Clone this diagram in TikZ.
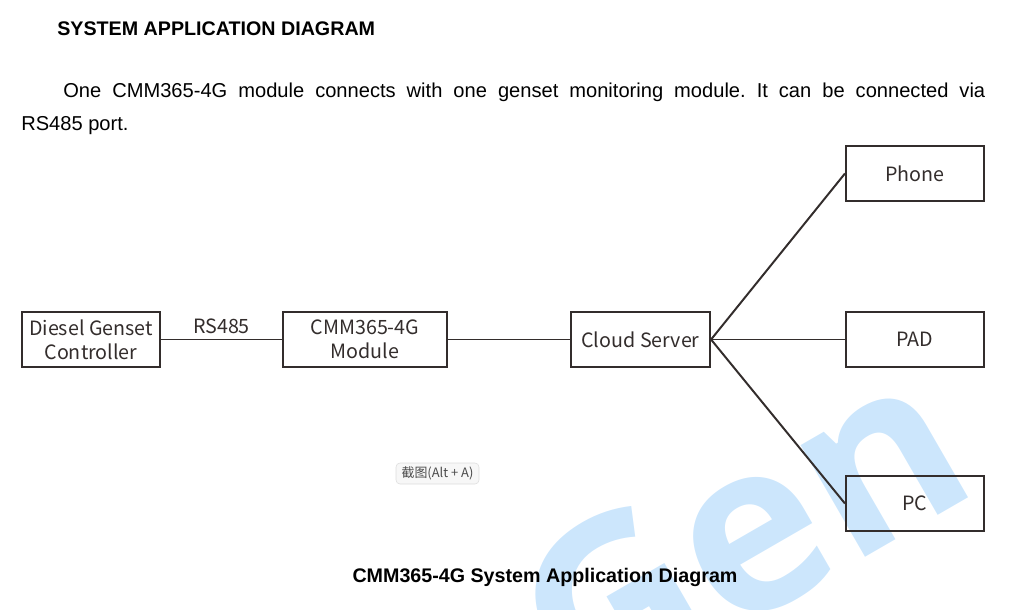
\documentclass[tikz,border=0pt]{standalone}
\usepackage{fontspec}
\setmainfont{Liberation Sans}
\newfontfamily\boxfont{Noto Sans CJK SC}
\newfontfamily\markfont{Open Sans}
\usetikzlibrary{positioning}
\definecolor{linegray}{HTML}{332D2C}
\definecolor{wmblue}{HTML}{CCE6FC}
\definecolor{tipgray}{HTML}{F7F7F7}
\definecolor{tipline}{HTML}{DDDDDD}
\frenchspacing

\begin{document}
\begin{tikzpicture}[x=0.25mm, y=-0.25mm, every node/.style={inner sep=0pt},
    unit/.style={draw=linegray, line width=1.5pt, minimum height=13.75mm,
        align=center, text=linegray, font=\boxfont\fontsize{14}{17}\selectfont},
    link/.style={draw=linegray, line width=1.4pt}]
    \useasboundingbox (0,0) rectangle (1018,609);
    % watermark
    \node[rotate=30, anchor=base west, text=wmblue, font=\markfont\bfseries\fontsize{168}{168}\selectfont] (wm) at (580,722) {Gen};
    % heading and text
    \node[anchor=base west, font=\bfseries\fontsize{14}{17}\selectfont] (title) at (57,35) {SYSTEM APPLICATION DIAGRAM};
    \node[anchor=base west, font=\fontsize{14.3}{23}\selectfont] (line1) at (63,97)
        {\hbox to 230.5mm{One CMM365-4G module connects with one genset monitoring module. It can be connected via}};
    \node[anchor=base west, font=\fontsize{14.3}{23}\selectfont] (line2) at (21,130) {RS485 port.};
    % boxes
    \node[unit, minimum width=34.5mm] (ctrl) at (91,339.5) {Diesel Genset\\Controller};
    \node[unit, minimum width=41mm] (cmm) at (365,339.5) {CMM365-4G\\Module};
    \node[unit, minimum width=34.75mm] (cloud) at (640.5,339.5) {Cloud Server};
    \node[unit, minimum width=34.5mm] (phone) at (915,173.5) {Phone};
    \node[unit, minimum width=34.5mm] (pad) at (915,339.5) {PAD};
    \node[unit, minimum width=34.5mm] (pc) at (915,503.5) {PC};
    % connections
    \draw[link] (ctrl) -- node[above=1.2mm, text=linegray, font=\boxfont\fontsize{14}{17}\selectfont] (rs) {RS485} (cmm);
    \draw[link] (cmm) -- (cloud);
    \draw[link] (cloud.east) -- (phone.west);
    \draw[link] (cloud.east) -- (pad.west);
    \draw[link] (cloud.east) -- (pc.west);
    % tooltip
    \node[draw=tipline, fill=tipgray, rounded corners=1mm, minimum width=20.75mm, minimum height=5.25mm,
        text=black!70, font=\boxfont\fontsize{9.2}{11}\selectfont] (tip) at (437.5,473.5) {截图(Alt + A)};
    % caption
    \node[anchor=base, font=\bfseries\fontsize{14}{17}\selectfont] (caption) at (545,582) {CMM365-4G System Application Diagram};
\end{tikzpicture}
\end{document}
